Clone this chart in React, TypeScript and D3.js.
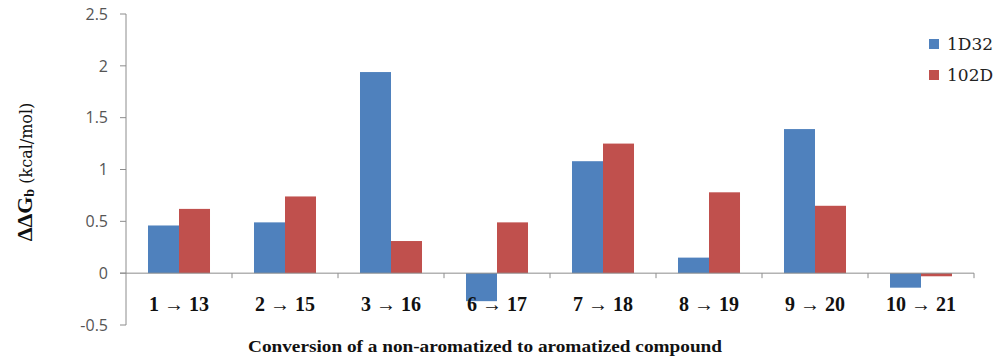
import React from "react";
import * as d3 from "d3";

const categories = ["1 → 13", "2 → 15", "3 → 16", "6 → 17", "7 → 18", "8 → 19", "9 → 20", "10 → 21"];
const series1D32 = [0.46, 0.49, 1.94, -0.27, 1.08, 0.15, 1.39, -0.14];
const series102D = [0.62, 0.74, 0.31, 0.49, 1.25, 0.78, 0.65, -0.03];
const seriesNames = ["1D32", "102D"];
const seriesColors = ["#4F81BD", "#C0504D"];
const yTicks = [-0.5, 0, 0.5, 1, 1.5, 2, 2.5];

export default function App() {
  const W = 1000, H = 359;
  const left = 126, right = 974, top = 14, bottom = 325;
  const x = d3.scaleBand<string>().domain(categories).range([left, right]).paddingInner(0).paddingOuter(0);
  const y = d3.scaleLinear().domain([-0.5, 2.5]).range([bottom, top]);
  const groupW = x.bandwidth() * 0.585;
  const inner = d3.scaleBand<number>().domain([0, 1]).range([0, groupW]);
  const data = [series1D32, series102D];
  const serif = "Liberation Serif, DejaVu Serif, serif";
  const serifReg = "DejaVu Serif";
  const sans = "Open Sans, Liberation Sans, sans-serif";
  const y0 = y(0);
  return (
    <svg width={W} height={H} style={{ position: "absolute", left: 0, top: 0, background: "#fff" }}>
      {categories.map((c, i) => {
        const gx = (x(c) as number) + (x.bandwidth() - groupW) / 2;
        return data.map((s, k) => {
          const v = s[i];
          const yt = Math.min(y(v), y0);
          const h = Math.abs(y(v) - y0);
          return (
            <rect key={c + k} x={gx + (inner(k) as number)} y={yt} width={inner.bandwidth()} height={h}
              fill={seriesColors[k]} />
          );
        });
      })}
      <line x1={left} x2={left} y1={top} y2={bottom} stroke="#8c8c8c" strokeWidth={1} />
      {yTicks.map((t) => (
        <g key={t}>
          <line x1={left - 6} x2={left} y1={y(t)} y2={y(t)} stroke="#8c8c8c" />
          <text x={108} y={y(t)} dy="0.36em" textAnchor="end" fontFamily={sans} fontSize={16} fill="#555">
            {t}
          </text>
        </g>
      ))}
      <line x1={left - 6} x2={right} y1={y0} y2={y0} stroke="#8c8c8c" strokeWidth={1} />
      {categories.map((c, i) => (
        <line key={"t" + i} x1={(x(c) as number) + x.bandwidth()} x2={(x(c) as number) + x.bandwidth()}
          y1={y0} y2={y0 + 5} stroke="#8c8c8c" />
      ))}
      {categories.map((c) => (
        <text key={"l" + c} x={(x(c) as number) + x.bandwidth() / 2} y={311} textAnchor="middle"
          fontFamily={serif} fontWeight="bold" fontSize={20} fill="#111">
          {c}
        </text>
      ))}
      <text x={485} y={352} textAnchor="middle" fontFamily={serif} fontWeight="bold" fontSize={17} fill="#111"
        textLength={474} lengthAdjust="spacingAndGlyphs">
        Conversion of a non-aromatized to aromatized compound
      </text>
      <text transform="translate(32,172) rotate(-90)" textAnchor="middle" fill="#111">
        <tspan fontFamily={serif} fontWeight="bold" fontSize={22}>ΔΔG</tspan>
        <tspan fontFamily={serif} fontWeight="bold" fontSize={14} dy={2}>b</tspan>
        <tspan fontFamily={serifReg} fontSize={16} dy={-2}> (kcal/mol)</tspan>
      </text>
      {seriesNames.map((n, k) => (
        <g key={n} transform={`translate(929, ${44 + k * 31})`}>
          <rect x={0} y={-5} width={10} height={10} fill={seriesColors[k]} />
          <text x={18} y={0} dy="0.35em" fontFamily={serifReg} fontSize={17} fill="#222">{n}</text>
        </g>
      ))}
    </svg>
  );
}
